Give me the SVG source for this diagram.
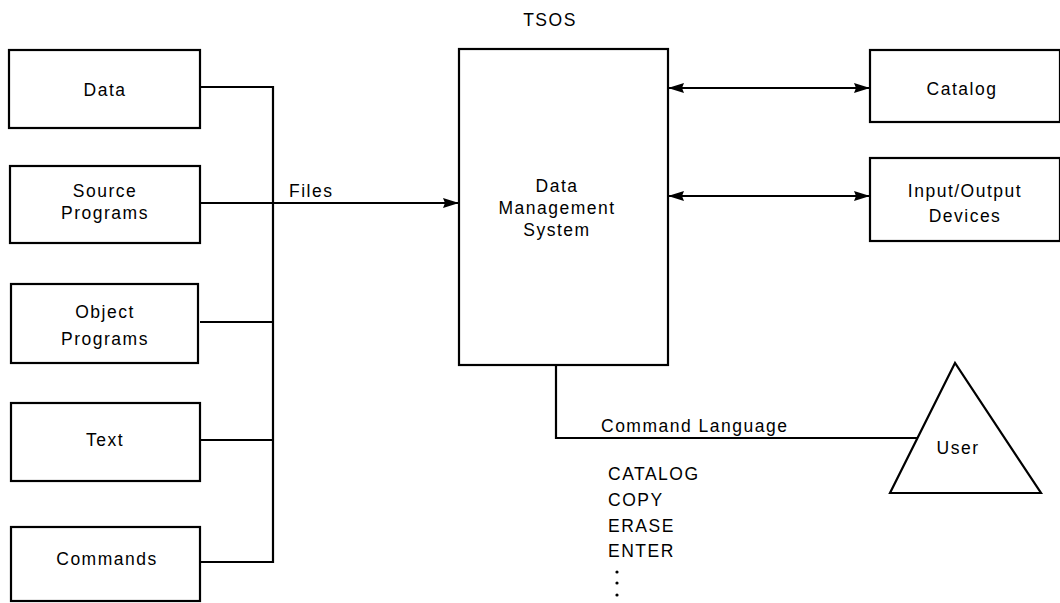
<svg xmlns="http://www.w3.org/2000/svg" width="1060" height="603" viewBox="0 0 1060 603">
<defs>
<marker id="ah" markerWidth="16" markerHeight="10" refX="15" refY="5" orient="auto-start-reverse" markerUnits="userSpaceOnUse">
<path d="M0,0 L16,5 L0,10 L2,5 Z" fill="#000"/>
</marker>
<style>
.box{fill:#fff;stroke:#000;stroke-width:2.2}
.ln{fill:none;stroke:#000;stroke-width:2.2}
text{font-family:"Liberation Sans",Arial,sans-serif;font-size:17.5px;letter-spacing:1.5px;fill:#000}
.c{text-anchor:middle}
</style>
</defs>
<rect width="1060" height="603" fill="#fff"/>
<g id="connectors">
<polyline class="ln" points="200,87 273,87 273,562 200,562"/>
<line class="ln" x1="200" y1="322" x2="273" y2="322"/>
<line class="ln" x1="200" y1="440" x2="273" y2="440"/>
<line class="ln" x1="200" y1="203" x2="458" y2="203" marker-end="url(#ah)"/>
<line class="ln" x1="669" y1="88" x2="869" y2="88" marker-start="url(#ah)" marker-end="url(#ah)"/>
<line class="ln" x1="669" y1="196" x2="869" y2="196" marker-start="url(#ah)" marker-end="url(#ah)"/>
<polyline class="ln" points="556,365 556,438 918,438"/>
<text x="289" y="197">Files</text>
<text x="601" y="432">Command Language</text>
</g>
<g id="tsos-label"><text class="c" x="550" y="26">TSOS</text></g>
<g id="data"><rect class="box" x="9" y="50" width="191" height="78"/><text class="c" x="105" y="96">Data</text></g>
<g id="source"><rect class="box" x="10" y="166" width="190" height="77"/><text class="c" x="105" y="197">Source</text><text class="c" x="105" y="219">Programs</text></g>
<g id="object"><rect class="box" x="11" y="284" width="187" height="79"/><text class="c" x="105" y="318">Object</text><text class="c" x="105" y="345">Programs</text></g>
<g id="text"><rect class="box" x="11" y="403" width="189" height="78"/><text class="c" x="105" y="446">Text</text></g>
<g id="commands"><rect class="box" x="11" y="527" width="189" height="74"/><text class="c" x="107" y="565">Commands</text></g>
<g id="dms"><rect class="box" x="459" y="49" width="209" height="316"/><text class="c" x="557" y="192">Data</text><text class="c" x="557" y="214">Management</text><text class="c" x="557" y="236">System</text></g>
<g id="catalog"><rect class="box" x="870" y="50" width="190" height="72"/><text class="c" x="962" y="95">Catalog</text></g>
<g id="io"><rect class="box" x="870" y="158" width="190" height="83"/><text class="c" x="965" y="197">Input/Output</text><text class="c" x="965" y="222">Devices</text></g>
<g id="user"><polygon class="box" points="955,363 890,493 1041,493"/><text class="c" x="958" y="454">User</text></g>
<g id="commands-list">
<text x="608" y="480">CATALOG</text>
<text x="608" y="506">COPY</text>
<text x="608" y="532">ERASE</text>
<text x="608" y="557">ENTER</text>
<circle cx="617" cy="572" r="1.6"/>
<circle cx="617" cy="583" r="1.6"/>
<circle cx="617" cy="595" r="1.6"/>
</g>
</svg>
